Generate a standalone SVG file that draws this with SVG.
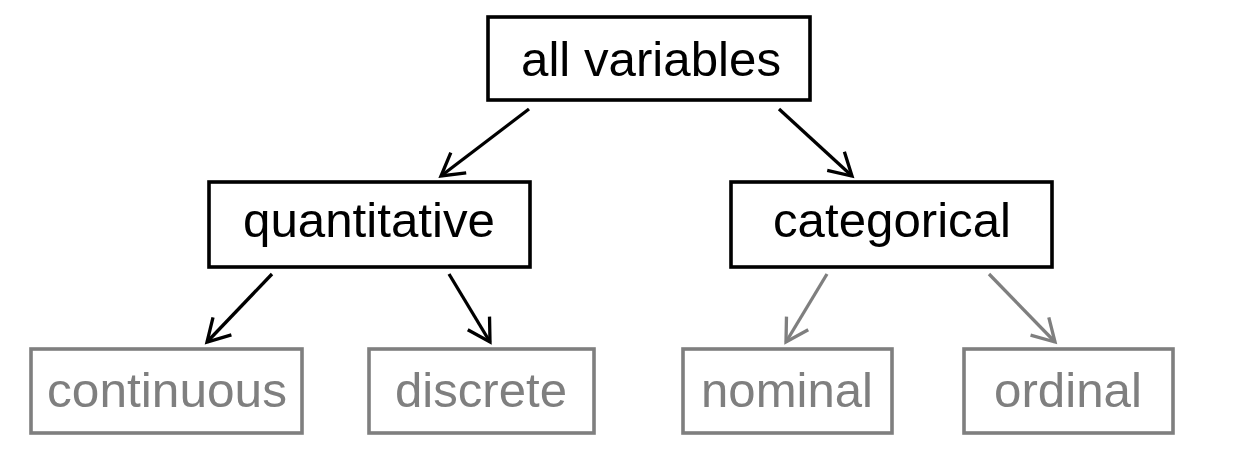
<svg xmlns="http://www.w3.org/2000/svg" width="1259" height="450" viewBox="0 0 1259 450">
<style>
.bk{fill:#fff;stroke:#000;stroke-width:3.6}
.gr{fill:#fff;stroke:#7f7f7f;stroke-width:3.6}
text{font-family:"Liberation Sans",Arial,sans-serif;font-size:49px;text-anchor:middle}
.tb{fill:#000}
.tg{fill:#7f7f7f}
.cb{stroke:#000;stroke-width:3.3;fill:none}
.cg{stroke:#7f7f7f;stroke-width:3.3;fill:none}
</style>
<defs>
<marker id="ab" markerUnits="userSpaceOnUse" markerWidth="40" markerHeight="40" refX="0" refY="0" viewBox="-30 -20 40 40" orient="auto" overflow="visible">
<path d="M-22,-12.7 L0,0 L-22,12.7" fill="none" stroke="#000" stroke-width="3.3"/>
</marker>
<marker id="ag" markerUnits="userSpaceOnUse" markerWidth="40" markerHeight="40" refX="0" refY="0" viewBox="-30 -20 40 40" orient="auto" overflow="visible">
<path d="M-22,-12.7 L0,0 L-22,12.7" fill="none" stroke="#7f7f7f" stroke-width="3.3"/>
</marker>
</defs>
<rect width="1259" height="450" fill="#fff"/>
<g id="connectors">
<line class="cb" x1="529" y1="109" x2="441" y2="176" marker-end="url(#ab)"/>
<line class="cb" x1="779" y1="109" x2="852" y2="176" marker-end="url(#ab)"/>
<line class="cb" x1="272" y1="274" x2="207" y2="342" marker-end="url(#ab)"/>
<line class="cb" x1="449" y1="274" x2="490" y2="342" marker-end="url(#ab)"/>
<line class="cg" x1="827" y1="274" x2="786" y2="342" marker-end="url(#ag)"/>
<line class="cg" x1="989" y1="274" x2="1055" y2="342" marker-end="url(#ag)"/>
</g>
<g id="all-variables">
<rect class="bk" x="488" y="17" width="322" height="83"/>
<text class="tb" x="651" y="76" textLength="260" lengthAdjust="spacingAndGlyphs">all variables</text>
</g>
<g id="quantitative">
<rect class="bk" x="209" y="182" width="321" height="85"/>
<text class="tb" x="369" y="237" textLength="252" lengthAdjust="spacingAndGlyphs">quantitative</text>
</g>
<g id="categorical">
<rect class="bk" x="731" y="182" width="321" height="85"/>
<text class="tb" x="892" y="237" textLength="238" lengthAdjust="spacingAndGlyphs">categorical</text>
</g>
<g id="continuous">
<rect class="gr" x="31" y="349" width="271" height="84"/>
<text class="tg" x="167" y="407" textLength="240" lengthAdjust="spacingAndGlyphs">continuous</text>
</g>
<g id="discrete">
<rect class="gr" x="369" y="349" width="225" height="84"/>
<text class="tg" x="481" y="407" textLength="172" lengthAdjust="spacingAndGlyphs">discrete</text>
</g>
<g id="nominal">
<rect class="gr" x="683" y="349" width="209" height="84"/>
<text class="tg" x="787" y="407" textLength="172" lengthAdjust="spacingAndGlyphs">nominal</text>
</g>
<g id="ordinal">
<rect class="gr" x="964" y="349" width="209" height="84"/>
<text class="tg" x="1068" y="407" textLength="148" lengthAdjust="spacingAndGlyphs">ordinal</text>
</g>
</svg>
